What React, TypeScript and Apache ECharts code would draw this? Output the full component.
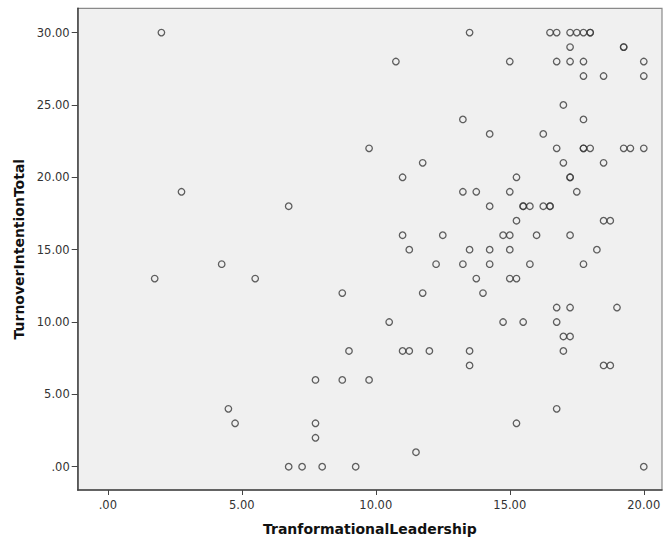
import React, { useEffect, useRef } from "react";
import * as echarts from "echarts";

// TranformationalLeadership (x) and TurnoverIntentionTotal (y), one entry per case
const leadership: number[] = [
  2, 13.5, 16.5, 16.75, 17.25, 17.5, 17.75, 18, 18,
  17.25, 19.25, 19.25,
  10.75, 15, 16.75, 17.25, 17.75, 20,
  17.75, 18.5, 20,
  17,
  13.25, 17.75,
  14.25, 16.25,
  9.75, 16.75, 17.75, 17.75, 18, 19.25, 19.5, 20,
  11.75, 17, 18.5,
  11, 15.25, 17.25, 17.25,
  2.75, 13.25, 13.75, 15, 17.5,
  6.75, 14.25, 15.5, 15.5, 15.75, 16.25, 16.5, 16.5,
  15.25, 18.5, 18.75,
  11, 12.5, 14.75, 15, 16, 17.25,
  11.25, 13.5, 14.25, 15, 18.25,
  4.25, 12.25, 13.25, 14.25, 15.75, 17.75,
  1.75, 5.5, 13.75, 15, 15.25,
  8.75, 11.75, 14,
  16.75, 17.25, 19,
  10.5, 14.75, 15.5, 16.75,
  17, 17.25,
  9, 11, 11.25, 12, 13.5, 17,
  13.5, 18.5, 18.75,
  7.75, 8.75, 9.75,
  4.5, 16.75,
  4.75, 7.75, 15.25,
  7.75,
  11.5,
  6.75, 7.25, 8, 9.25, 20,
];

const turnover: number[] = [
  30, 30, 30, 30, 30, 30, 30, 30, 30,
  29, 29, 29,
  28, 28, 28, 28, 28, 28,
  27, 27, 27,
  25,
  24, 24,
  23, 23,
  22, 22, 22, 22, 22, 22, 22, 22,
  21, 21, 21,
  20, 20, 20, 20,
  19, 19, 19, 19, 19,
  18, 18, 18, 18, 18, 18, 18, 18,
  17, 17, 17,
  16, 16, 16, 16, 16, 16,
  15, 15, 15, 15, 15,
  14, 14, 14, 14, 14, 14,
  13, 13, 13, 13, 13,
  12, 12, 12,
  11, 11, 11,
  10, 10, 10, 10,
  9, 9,
  8, 8, 8, 8, 8, 8,
  7, 7, 7,
  6, 6, 6,
  4, 4,
  3, 3, 3,
  2,
  1,
  0, 0, 0, 0, 0,
];

const xTicks: number[] = [0, 5, 10, 15, 20];
const yTicks: number[] = [0, 5, 10, 15, 20, 25, 30];

const fmt = (v: number) => {
  const s = v.toFixed(2);
  return s.startsWith("0.") ? s.slice(1) : s;
};

export default function App() {
  const ref = useRef<HTMLDivElement>(null);
  useEffect(() => {
    if (!ref.current) return;
    const chart = echarts.init(ref.current, null, { renderer: "svg" });
    const data = leadership.map((x, i) => [x, turnover[i]]);
    const font = "DejaVu Sans";
    chart.setOption({
      animation: false,
      grid: {
        left: 77.7,
        top: 8.3,
        right: 3,
        bottom: 52,
        show: true,
        backgroundColor: "#f0f0f0",
        borderColor: "#8a8a8a",
        borderWidth: 1.2,
      },
      xAxis: {
        type: "value",
        min: -1.123,
        max: 20.68,
        name: "TranformationalLeadership",
        nameLocation: "middle",
        nameGap: 32,
        nameTextStyle: { fontFamily: font, fontWeight: "bold", fontSize: 14, color: "#111" },
        axisLine: { show: true, onZero: false, lineStyle: { color: "#444", width: 1.5 } },
        axisTick: { show: true, length: 5, customValues: xTicks, lineStyle: { color: "#444", width: 1 } },
        axisLabel: {
          customValues: xTicks,
          formatter: fmt,
          margin: 9,
          fontFamily: font,
          fontSize: 11.5,
          color: "#333",
        },
        splitLine: { show: false },
      },
      yAxis: {
        type: "value",
        min: -1.61,
        max: 31.68,
        name: "TurnoverIntentionTotal",
        nameLocation: "middle",
        nameRotate: 90,
        nameGap: 52,
        nameTextStyle: { fontFamily: font, fontWeight: "bold", fontSize: 14, color: "#111" },
        axisLine: { show: true, onZero: false, lineStyle: { color: "#444", width: 1.5 } },
        axisTick: { show: true, length: 6, customValues: yTicks, lineStyle: { color: "#444", width: 1 } },
        axisLabel: {
          customValues: yTicks,
          formatter: fmt,
          margin: 8,
          fontFamily: font,
          fontSize: 11.5,
          color: "#333",
        },
        splitLine: { show: false },
      },
      series: [
        {
          type: "scatter",
          data,
          symbol: "circle",
          symbolSize: 6.5,
          itemStyle: { color: "rgba(0,0,0,0)", borderColor: "#3a3a3a", borderWidth: 1.3 },
        },
      ],
    });
    return () => chart.dispose();
  }, []);
  return (
    <div
      ref={ref}
      style={{ position: "fixed", left: 0, top: 0, width: 665, height: 542, background: "#fff" }}
    />
  );
}
